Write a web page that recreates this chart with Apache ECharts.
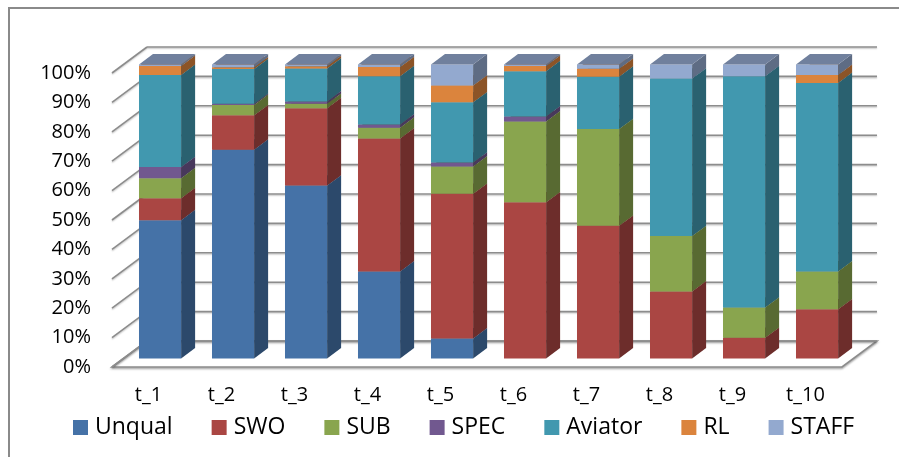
<!DOCTYPE html>
<html>
<head>
<meta charset="utf-8">
<style>
  html, body { margin: 0; padding: 0; background: #ffffff; }
  #chart { width: 899px; height: 457px; }
</style>
<script src="https://cdn.jsdelivr.net/npm/echarts@6/dist/echarts.min.js"></script>
</head>
<body>
<div id="chart"></div>
<script>
// Category labels and series (percent share of each category)
const categories = ['t_1', 't_2', 't_3', 't_4', 't_5', 't_6', 't_7', 't_8', 't_9', 't_10'];
const seriesNames = ['Unqual', 'SWO', 'SUB', 'SPEC', 'Aviator', 'RL', 'STAFF'];
const unqual  = [47.0, 71.0, 58.8, 29.6,  6.8,  0.0,  0.0,  0.0,  0.0,  0.0];
const swo     = [ 7.5, 11.7, 26.3, 45.2, 49.2, 53.1, 45.1, 22.8,  7.0, 16.7];
const sub     = [ 6.8,  3.5,  1.5,  3.7,  9.3, 27.5, 32.9, 18.8, 10.3, 12.9];
const spec    = [ 3.8,  0.4,  0.8,  1.1,  1.3,  1.7,  0.0,  0.0,  0.0,  0.0];
const aviator = [31.3, 11.8, 11.2, 16.4, 20.5, 15.4, 17.8, 53.6, 78.7, 64.1];
const rl      = [ 3.1,  0.6,  0.8,  3.1,  5.7,  1.8,  2.7,  0.0,  0.0,  2.7];
const staff   = [ 0.5,  1.0,  0.6,  0.9,  7.2,  0.5,  1.5,  4.8,  4.0,  3.6];
const yTicks  = [0, 10, 20, 30, 40, 50, 60, 70, 80, 90, 100];

const seriesValues = [unqual, swo, sub, spec, aviator, rl, staff];
const colors = ['#4572A7', '#AA4643', '#89A54E', '#71588F', '#4198AF', '#DB843D', '#93A9CF'];

// Oblique 3D geometry (pixels): full floor depth, bar front inset, bar depth
const DEPTH = [35, -26];
const FRONT = [DEPTH[0] * 0.33, DEPTH[1] * 0.33];
const BAR_D = [DEPTH[0] * 0.4, DEPTH[1] * 0.4];
const BAR_W = 0.577;
const GRID_COLOR = '#8c8c8c';

function shade(hex, k) {
  const n = parseInt(hex.slice(1), 16);
  const r = Math.round(((n >> 16) & 255) * k);
  const g = Math.round(((n >> 8) & 255) * k);
  const b = Math.round((n & 255) * k);
  return 'rgb(' + r + ',' + g + ',' + b + ')';
}

// Normalise each category to 100% and build stacked [index, start, end] triples
const totals = categories.map((_, i) => seriesValues.reduce((s, arr) => s + arr[i], 0));
const stacked = seriesValues.map(() => []);
categories.forEach((_, i) => {
  let acc = 0;
  seriesValues.forEach((arr, s) => {
    const v = arr[i] / totals[i] * 100;
    stacked[s].push([i, acc, acc + v]);
    acc += v;
  });
});

function lineStyle() {
  return {
    stroke: GRID_COLOR, lineWidth: 1.6,
    shadowColor: 'rgba(0,0,0,0.22)', shadowBlur: 1.5, shadowOffsetY: 1.2
  };
}

// Walls and floor: left-wall diagonals, back-wall horizontals, floor outline
function renderWalls(params, api) {
  const v = api.value(1);
  const cs = params.coordSys;
  const L = cs.x, R = cs.x + cs.width;
  const y = api.coord([0, v])[1];
  const children = [];
  if (v === 0) {
    children.push({
      type: 'polygon',
      shape: { points: [[L, y], [R, y], [R + DEPTH[0], y + DEPTH[1]], [L + DEPTH[0], y + DEPTH[1]]] },
      style: { fill: '#ffffff', stroke: GRID_COLOR, lineWidth: 1.6,
               shadowColor: 'rgba(0,0,0,0.25)', shadowBlur: 2, shadowOffsetY: 1.5 }
    });
  }
  children.push({
    type: 'line',
    shape: { x1: L, y1: y, x2: L + DEPTH[0], y2: y + DEPTH[1] },
    style: lineStyle()
  });
  children.push({
    type: 'line',
    shape: { x1: L + DEPTH[0], y1: y + DEPTH[1], x2: R + DEPTH[0], y2: y + DEPTH[1] },
    style: lineStyle()
  });
  return { type: 'group', children: children };
}

// One 3D column segment: front face, right side and top
function makeBarRenderer(s) {
  const color = colors[s];
  return function (params, api) {
    const i = api.value(0), lo = api.value(1), hi = api.value(2);
    if (hi - lo <= 0.001) return null;
    const band = api.size([1, 0])[0];
    const w = band * BAR_W;
    const pLo = api.coord([i, lo]);
    const pHi = api.coord([i, hi]);
    const cx = pLo[0] + FRONT[0];
    const x0 = cx - w / 2, x1 = cx + w / 2;
    const yB = pLo[1] + FRONT[1], yT = pHi[1] + FRONT[1];
    const dx = BAR_D[0], dy = BAR_D[1];
    return {
      type: 'group',
      z2: s,
      children: [
        { type: 'rect', z2: s, shape: { x: x0, y: yT, width: w, height: yB - yT },
          style: { fill: color } },
        { type: 'polygon', z2: s,
          shape: { points: [[x1, yT], [x1 + dx, yT + dy], [x1 + dx, yB + dy], [x1, yB]] },
          style: { fill: shade(color, 0.64) } },
        { type: 'polygon', z2: s,
          shape: { points: [[x0, yT], [x1, yT], [x1 + dx, yT + dy], [x0 + dx, yT + dy]] },
          style: { fill: shade(color, 0.76) } }
      ]
    };
  };
}

const FONT = '"Open Sans", "Noto Sans", sans-serif';

const series = [{
  type: 'custom',
  name: 'walls',
  coordinateSystem: 'cartesian2d',
  renderItem: renderWalls,
  data: yTicks.map(v => [0, v]),
  clip: false,
  silent: true,
  z: 1
}];
seriesNames.forEach((name, s) => {
  series.push({
    type: 'custom',
    name: name,
    coordinateSystem: 'cartesian2d',
    renderItem: makeBarRenderer(s),
    encode: { x: 0, y: [1, 2] },
    data: stacked[s],
    itemStyle: { color: colors[s] },
    clip: false,
    z: 2
  });
});

const chart = echarts.init(document.getElementById('chart'), null, { renderer: 'canvas' });
chart.setOption({
  animation: false,
  color: colors,
  textStyle: { fontFamily: FONT },
  graphic: [{
    type: 'rect',
    shape: { x: 9, y: 8, width: 1000, height: 1000 },
    style: { fill: 'none', stroke: '#8a8a8a', lineWidth: 2 },
    silent: true
  }],
  grid: { left: 112, right: 57, top: 73, bottom: 90, containLabel: false },
  xAxis: {
    type: 'category',
    data: categories,
    axisLine: { show: false },
    axisTick: { show: false },
    splitLine: { show: false },
    axisLabel: { fontSize: 20, color: '#000', margin: 18, fontFamily: FONT }
  },
  yAxis: {
    type: 'value',
    min: 0, max: 100, interval: 10,
    axisLine: { show: false },
    axisTick: { show: false },
    splitLine: { show: false },
    axisLabel: { fontSize: 20, color: '#000', margin: 21, formatter: '{value}%', fontFamily: FONT }
  },
  legend: {
    data: seriesNames,
    left: 68,
    top: 411,
    icon: 'rect',
    itemWidth: 15,
    itemHeight: 15,
    itemGap: 39,
    textStyle: { fontSize: 23, color: '#000', fontFamily: FONT, padding: [0, 0, 0, 2] }
  },
  series: series
});
</script>
</body>
</html>
